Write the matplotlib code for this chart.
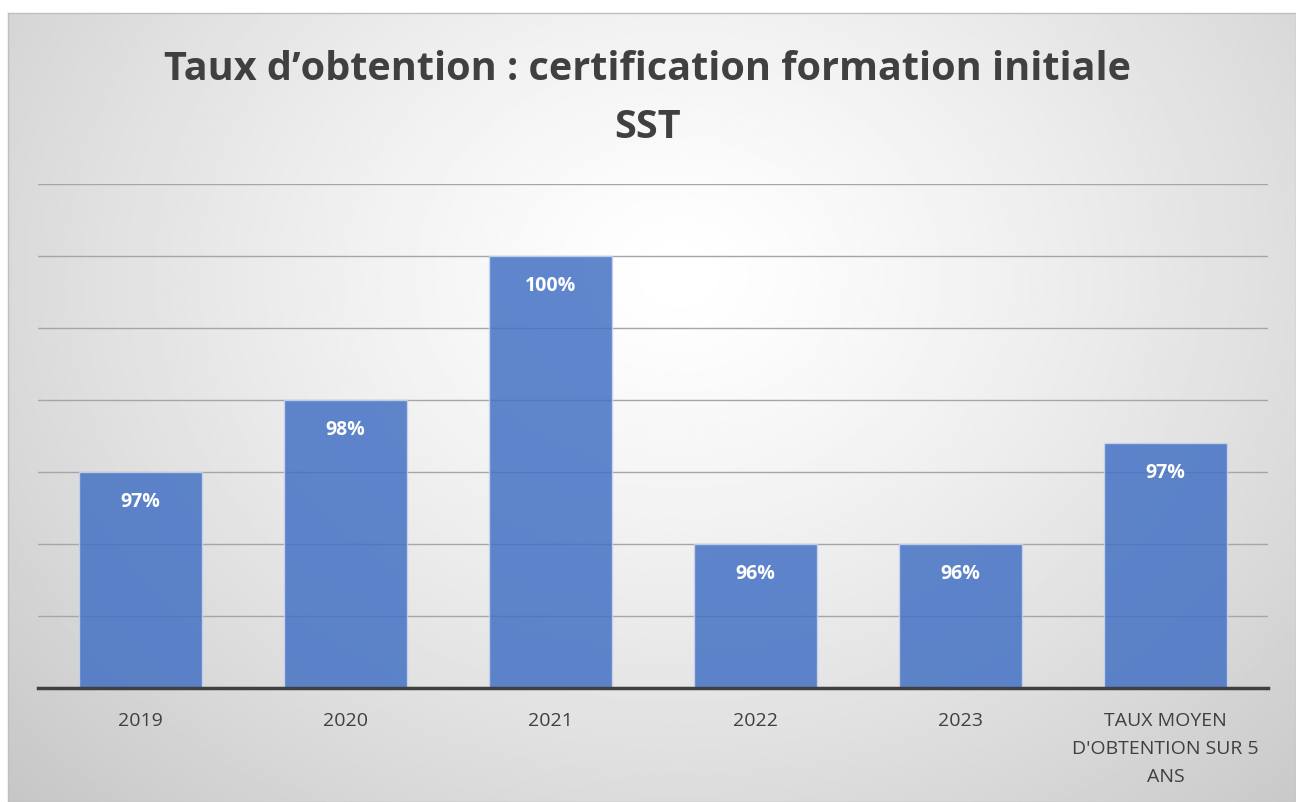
import matplotlib.pyplot as plt
import numpy as np

categories = ["2019", "2020", "2021", "2022", "2023",
              "TAUX MOYEN\nD'OBTENTION SUR 5\nANS"]
taux = [97, 98, 100, 96, 96, 97.4]

plt.rcParams['font.family'] = ['Open Sans', 'DejaVu Sans']

fig = plt.figure(figsize=(12.96, 8.02), dpi=100)

# radial grey-to-white background behind the chart
bg = fig.add_axes([8 / 1296, 0, 1 - 8 / 1296, 1 - 13 / 802])
h, w = 400, 650
yy, xx = np.mgrid[0:h, 0:w]
cx, cy = 0.52 * w, 0.33 * h
r = np.sqrt(((xx - cx) / w) ** 2 + ((yy - cy) / h * 0.75) ** 2)
shade = np.clip(1 - 0.34 * r ** 1.3, 0.76, 1.0)
bg.imshow(shade, cmap='gray', vmin=0, vmax=1, aspect='auto',
          extent=[0, 1, 0, 1], interpolation='bilinear')
bg.set_xlim(0, 1)
bg.set_ylim(0, 1)
for s in bg.spines.values():
    s.set_color('#BFBFBF')
    s.set_linewidth(1)
bg.set_xticks([])
bg.set_yticks([])

ax = fig.add_axes([38 / 1296, 1 - 688 / 802, 1230 / 1296, 504 / 802])
ax.patch.set_alpha(0)
x = np.arange(len(categories))
bars = ax.bar(x, taux, width=0.6, bottom=0, color='#4472C4', alpha=0.85,
              edgecolor='#C9D6F0', linewidth=1, zorder=3)
ax.set_ylim(94, 101)
ax.set_xlim(-0.5, len(categories) - 0.5)
ax.set_yticks(np.arange(95, 102, 1))
ax.yaxis.grid(True, color='#A6A6A6', linewidth=1, zorder=0)
ax.tick_params(axis='y', left=False, labelleft=False)
ax.tick_params(axis='x', length=0, pad=17, labelsize=14, labelcolor='#404040')
ax.set_xticks(x)
ax.set_xticklabels(categories, linespacing=1.72, va='top')
for side in ['top', 'right', 'left']:
    ax.spines[side].set_visible(False)
ax.spines['bottom'].set_color('#404040')
ax.spines['bottom'].set_linewidth(2.5)
ax.spines['bottom'].set_zorder(4)

for b, v in zip(bars, taux):
    ax.annotate(f"{v:.0f}%", (b.get_x() + b.get_width() / 2, v),
                xytext=(0, -21.5), textcoords='offset points', ha='center',
                va='center', color='white', fontsize=14, fontweight='bold',
                zorder=5)

fig.text(0.5, 1 - 69 / 802, "Taux d’obtention : certification formation initiale",
         ha='center', va='center', fontsize=28.5, fontweight='bold', color='#404040')
fig.text(0.5, 1 - 127 / 802, "SST", ha='center', va='center', fontsize=28.5,
         fontweight='bold', color='#404040')

fig.savefig('out.png', dpi=100)
